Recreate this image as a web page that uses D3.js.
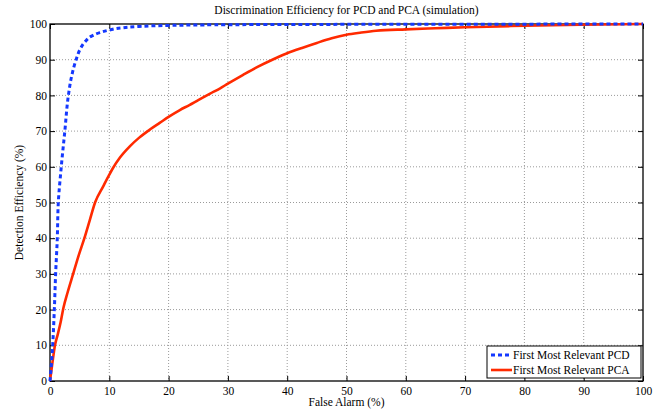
<!DOCTYPE html>
<html><head><meta charset="utf-8">
<script src="https://cdn.jsdelivr.net/npm/d3@7"></script>
<style>body{margin:0;background:#fff}svg{display:block}text{font-family:"Liberation Serif","Times New Roman",serif;fill:#000}</style>
</head><body><svg id="c" width="672" height="416"></svg>
<script>
const title = "Discrimination Efficiency for PCD and PCA (simulation)";
const xLabel = "False Alarm (%)";
const yLabel = "Detection Efficiency (%)";
const ticks = [0,10,20,30,40,50,60,70,80,90,100];
const seriesNames = ["First Most Relevant PCD","First Most Relevant PCA"];
const pcdX = [0,0.25,0.45,0.73,0.95,1.23,1.4,1.9,2.5,3.1,3.6,4.4,5.1,5.9,7.0,8.4,10,12,15,20,30,50,75,100];
const pcdY = [0,5,10,20,30,40,50,60,70,80,85,90,93,95,96.6,97.6,98.3,98.9,99.3,99.6,99.8,99.9,99.95,100];
const pcaX = [0,0.4,0.84,1.3,1.8,2.25,3.0,3.9,4.8,5.8,6.7,7.6,9.0,10,10.6,11.8,13.5,15,16.9,18.5,20,21.9,23.5,25,27,28.7,30,32.5,35,37.5,40,42.5,45,47.5,50,52.5,55,60,65,70,80,90,100];
const pcaY = [0,5,10,13,16.5,20.4,25,30,35,40,45,50,54.6,57.8,59.6,62.6,65.8,68.1,70.5,72.3,74,75.9,77.3,78.7,80.5,82,83.3,85.7,88,90,91.8,93.3,94.7,96,97,97.6,98.1,98.5,98.8,99.1,99.5,99.8,100];

const svg = d3.select("#c");
const L=50,R=643,T=24,B=381;
const x = d3.scaleLinear().domain([0,100]).range([L,R]);
const y = d3.scaleLinear().domain([0,100]).range([B,T]);

// grid
const g = svg.append("g");
ticks.slice(1,-1).forEach(t=>{
  g.append("line").attr("x1",x(t)).attr("x2",x(t)).attr("y1",T).attr("y2",B)
   .attr("stroke","#9a9a9a").attr("stroke-width",1).attr("stroke-dasharray","1,2");
  g.append("line").attr("x1",L).attr("x2",R).attr("y1",y(t)).attr("y2",y(t))
   .attr("stroke","#9a9a9a").attr("stroke-width",1).attr("stroke-dasharray","1,2");
});

// axes
const xb = svg.append("g").attr("transform",`translate(0,${B})`)
  .call(d3.axisBottom(x).tickValues(ticks).tickSize(-5).tickPadding(6).tickFormat(d3.format("d")));
const xt = svg.append("g").attr("transform",`translate(0,${T})`)
  .call(d3.axisTop(x).tickValues(ticks).tickSize(-5).tickFormat(""));
const yl = svg.append("g").attr("transform",`translate(${L},0)`)
  .call(d3.axisLeft(y).tickValues(ticks).tickSize(-5).tickPadding(3).tickFormat(d3.format("d")));
const yr = svg.append("g").attr("transform",`translate(${R},0)`)
  .call(d3.axisRight(y).tickValues(ticks).tickSize(-5).tickFormat(""));
[xb,xt,yl,yr].forEach(a=>{
  a.selectAll(".domain").remove();
  a.selectAll("line").attr("stroke","#000").attr("stroke-width",1);
  a.selectAll("text").style("font-family",'"Liberation Serif",serif').style("font-size","11.5px").attr("fill","#000");
});
svg.append("rect").attr("x",L).attr("y",T).attr("width",R-L).attr("height",B-T)
  .attr("fill","none").attr("stroke","#000").attr("stroke-width",1.3);

// lines
const pca = pcaX.map((v,i)=>[v,pcaY[i]]);
const pcd = pcdX.map((v,i)=>[v,pcdY[i]]);
svg.append("path").datum(pca).attr("d",d3.line().x(d=>x(d[0])).y(d=>y(d[1])).curve(d3.curveMonotoneX)).attr("fill","none")
  .attr("stroke","#ff2a00").attr("stroke-width",2.6);
svg.append("path").datum(pcd).attr("d",d3.line().x(d=>x(d[0])).y(d=>y(d[1])).curve(d3.curveMonotoneY)).attr("fill","none")
  .attr("stroke","#1438ff").attr("stroke-width",3).attr("stroke-dasharray","4,3");

// labels
svg.append("text").attr("x",(L+R)/2).attr("y",14).attr("text-anchor","middle").style("font-size","11.5px").text(title);
svg.append("text").attr("x",(L+R)/2).attr("y",406).attr("text-anchor","middle").style("font-size","11.5px").text(xLabel);
svg.append("text").attr("transform",`translate(23,${(T+B)/2}) rotate(-90)`).attr("text-anchor","middle").style("font-size","11.5px").text(yLabel);

// legend
const lg = svg.append("g");
lg.append("rect").attr("x",487).attr("y",346).attr("width",154).attr("height",32)
  .attr("fill","#fff").attr("stroke","#000").attr("stroke-width",1);
const cols=["#1438ff","#ff2a00"], dash=["4,3",null], sw=[3,2.6];
seriesNames.forEach((n,i)=>{
  const yy = 355+i*15;
  lg.append("line").attr("x1",491).attr("x2",512).attr("y1",yy).attr("y2",yy)
    .attr("stroke",cols[i]).attr("stroke-width",sw[i]).attr("stroke-dasharray",dash[i]);
  lg.append("text").attr("x",513).attr("y",yy+4).style("font-size","11.5px").text(n);
});
</script></body></html>
